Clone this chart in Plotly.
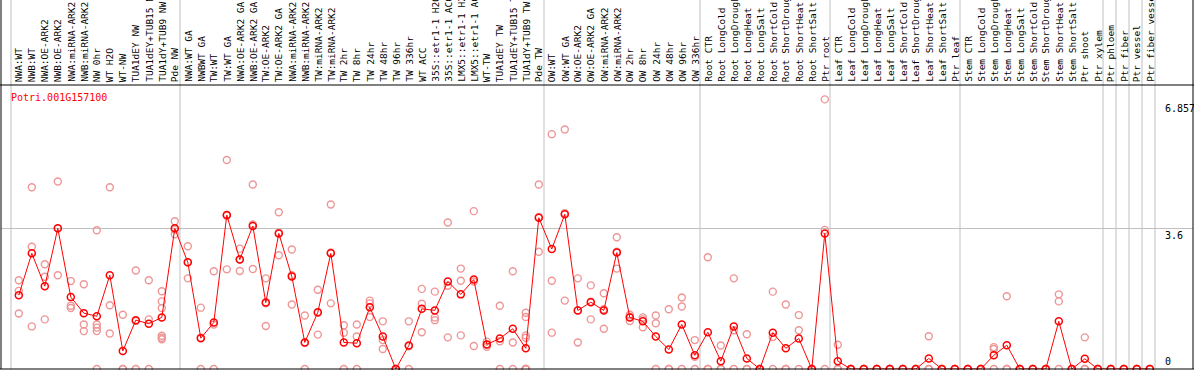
import plotly.graph_objects as go

# ---------------- data ----------------
categories = [
    "NWA:WT", "NWB:WT", "NWA:OE-ARK2", "NWB:OE-ARK2", "NWA:miRNA-ARK2", "NWB:miRNA-ARK2",
    "NW 0hr", "WT H2O", "WT-NW", "TUA1dEY NW", "TUA1dEY+TUB15 NW", "TUA1dY+TUB9 NW", "Pde NW",
    "NWA:WT GA", "NWBWT GA", "TW:WT", "TW:WT GA", "NWA:OE-ARK2 GA", "NWB:OE-ARK2 GA",
    "TW:OE-ARK2", "TW:OE-ARK2 GA", "NWA:miRNA-ARK2", "NWB:miRNA-ARK2", "TW:miRNA-ARK2",
    "TW:miRNA-ARK2", "TW 2hr", "TW 8hr", "TW 24hr", "TW 48hr", "TW 96hr", "TW 336hr",
    "WT ACC", "35S::etr1-1 H2O", "35S::etr1-1 ACC", "LMX5::etr1-1 H2O", "LMX5::etr1-1 ACC",
    "WT-TW", "TUA1dEY TW", "TUA1dEY+TUB15 TW", "TUA1dY+TUB9 TW", "Pde TW",
    "OW:WT", "OW:WT GA", "OW:OE-ARK2", "OW:OE-ARK2 GA", "OW:miRNA-ARK2", "OW:miRNA-ARK2",
    "OW 2hr", "OW 8hr", "OW 24hr", "OW 48hr", "OW 96hr", "OW 336hr",
    "Root CTR", "Root LongCold", "Root LongDrought", "Root LongHeat", "Root LongSalt",
    "Root ShortCold", "Root ShortDrought", "Root ShortHeat", "Root ShortSalt", "Ptr root",
    "Leaf CTR", "Leaf LongCold", "Leaf LongDrought", "Leaf LongHeat", "Leaf LongSalt",
    "Leaf ShortCold", "Leaf ShortDrought", "Leaf ShortHeat", "Leaf ShortSalt", "Ptr leaf",
    "Stem CTR", "Stem LongCold", "Stem LongDrought", "Stem LongHeat", "Stem LongSalt",
    "Stem ShortCold", "Stem ShortDrought", "Stem ShortHeat", "Stem ShortSalt", "Ptr shoot",
    "Ptr xylem", "Ptr phloem", "Ptr fiber", "Ptr vessel", "Ptr fiber vessel",
]

group_sizes = [13, 28, 12, 10, 10, 11, 1, 1, 1, 1]

means = [
    1.89, 2.96, 2.12, 3.60, 1.84, 1.43, 1.35, 2.40, 0.46, 1.25, 1.16, 1.32, 3.60,
    2.73, 0.79, 1.19, 3.94, 2.80, 3.66, 1.70, 3.47, 2.37, 0.68, 1.45, 2.96, 0.68,
    0.66, 1.58, 0.83, 0.00, 0.60, 1.54, 1.50, 2.24, 1.91, 2.29, 0.63, 0.78, 1.03,
    0.53, 3.87,
    3.07, 3.96, 1.50, 1.71, 1.50, 2.98, 1.32, 1.22, 0.83, 0.50, 1.14, 0.35,
    0.94, 0.20, 1.09, 0.27, 0.00, 0.93, 0.53, 0.78, 0.00, 3.47,
    0.20, 0.00, 0.00, 0.00, 0.00, 0.00, 0.00, 0.27, 0.00, 0.00,
    0.00, 0.00, 0.35, 0.61, 0.00, 0.00, 0.00, 1.22, 0.00, 0.26, 0.00,
    0.00, 0.00, 0.00, 0.00,
]

replicates = [
    [2.27, 2.00, 1.42], [4.65, 3.13, 1.09], [2.68, 2.36, 1.27], [4.80, 3.60, 2.40],
    [2.25, 1.62, 1.56], [2.17, 1.14, 0.97], [3.55, 1.14, 1.06, 0.97, 0.0],
    [4.65, 1.63, 0.91], [1.39, 0.0, 0.0], [2.52, 1.23, 0.0], [2.27, 1.27, 0.0],
    [1.99, 1.73, 1.56, 0.85, 0.80, 0.76], [3.78, 3.57, 3.45],
    [3.14, 2.73, 2.32], [1.57, 0.80, 0.0], [2.50, 1.14, 0.0], [5.35, 3.92, 2.55],
    [3.08, 2.81, 2.51], [4.72, 3.70, 2.56], [2.32, 1.68, 1.10], [4.01, 3.49, 2.91],
    [3.06, 2.40, 1.65], [1.37, 0.67, 0.0], [2.03, 1.44, 0.88], [4.21, 2.98, 1.68],
    [1.12, 0.93, 0.0], [1.14, 0.83, 0.0], [1.75, 1.68, 1.33], [1.22, 0.74, 0.51],
    [0.0, 0.0, 0.0], [1.22, 0.58, 0.0], [2.05, 1.67, 0.94], [1.98, 1.32, 1.25],
    [3.75, 2.13, 0.81], [2.57, 2.26, 0.86], [4.04, 2.24, 0.59], [0.70, 0.63, 0.57],
    [1.62, 0.71, 0.0], [2.50, 0.68, 0.0], [1.44, 1.33, 0.86, 0.80, 0.0, 0.0, 0.0, 0.0],
    [4.72, 3.89, 3.00],
    [6.01, 2.26, 0.93], [6.13, 3.99, 1.75], [2.32, 1.50, 0.68], [2.14, 1.72, 1.27],
    [1.94, 1.53, 1.03], [3.37, 3.00, 2.57], [1.39, 1.34, 1.23], [1.32, 1.27, 1.07],
    [1.37, 1.17, 0.0], [1.53, 0.0, 0.0], [1.83, 1.60, 0.0], [0.74, 0.31, 0.0],
    [2.86, 0.0, 0.0], [0.60, 0.0, 0.0], [2.32, 0.99, 0.0], [0.89, 0.0, 0.0],
    [0.0, 0.0, 0.0], [1.98, 0.82, 0.0], [1.65, 0.0, 0.0], [1.38, 0.99, 0.0],
    [0.0, 0.0, 0.0], [6.90, 3.56, 0.0],
    [0.62, 0.0, 0.0], [0.0, 0.0, 0.0], [0.0, 0.0, 0.0], [0.0, 0.0, 0.0],
    [0.0, 0.0, 0.0], [0.0, 0.0, 0.0], [0.0, 0.0, 0.0], [0.84, 0.0, 0.0],
    [0.0, 0.0, 0.0], [0.0, 0.0, 0.0],
    [0.0, 0.0, 0.0], [0.0, 0.0, 0.0], [0.56, 0.51, 0.0], [1.86, 0.0, 0.0],
    [0.0, 0.0, 0.0], [0.0, 0.0, 0.0], [0.0, 0.0, 0.0], [1.91, 1.73, 0.0],
    [0.0, 0.0, 0.0], [0.81, 0.0, 0.0], [0.0, 0.0, 0.0],
    [0.0, 0.0, 0.0], [0.0, 0.0, 0.0], [0.0, 0.0, 0.0], [0.0, 0.0, 0.0],
]

y_tick_values = [0, 3.6, 6.857]
y_tick_labels = ["0", "3.6", "6.857"]
gene_title = "Potri.001G157100"

# ---------------- layout constants ----------------
W, H = 1194, 370
ML, MR, MT, MB = 1, 1, 85, 1
plot_w = W - ML - MR
plot_h = H - MT - MB
px_per_cat = 13.0
first_cat_px = 18.8
x0 = -(first_cat_px - ML) / px_per_cat
x1 = x0 + plot_w / px_per_cat
y_max = max(y_tick_values) * 1.06
top_paper = (H - MB) / plot_h  # paper y of figure top

FONT = "DejaVu Sans Mono"
GRID = "#c0c0c0"

xs = list(range(len(categories)))
rep_x, rep_y = [], []
for i, reps in enumerate(replicates):
    for v in reps:
        rep_x.append(i)
        rep_y.append(v)

fig = go.Figure()
fig.add_trace(go.Scatter(
    x=rep_x, y=rep_y, mode="markers", cliponaxis=False, hoverinfo="skip",
    marker=dict(symbol="circle-open", size=7, color="rgb(238,150,150)",
                line=dict(width=1.4, color="rgb(238,150,150)")),
))
fig.add_trace(go.Scatter(
    x=xs, y=means, mode="lines+markers", cliponaxis=False,
    line=dict(color="#ff0000", width=1),
    marker=dict(symbol="circle-open", size=7, color="#ff0000",
                line=dict(width=1.5, color="#ff0000")),
))

shapes = []
# group boundaries (vertical grid lines spanning labels + plot)
start = 0
bounds = [start]
for g in group_sizes:
    start += g
    bounds.append(start)
for b in bounds:
    shapes.append(dict(type="line", xref="x", yref="paper", x0=b - 0.6, x1=b - 0.6,
                       y0=0, y1=top_paper, line=dict(color=GRID, width=1), layer="below"))
# frame
shapes.append(dict(type="line", xref="paper", yref="paper", x0=-0.01, x1=1.01, y0=1, y1=1,
                   line=dict(color="black", width=1), layer="above"))
shapes.append(dict(type="line", xref="paper", yref="paper", x0=-0.01, x1=1.01, y0=0, y1=0,
                   line=dict(color="black", width=1), layer="above"))
shapes.append(dict(type="line", xref="paper", yref="paper", x0=0, x1=0, y0=0, y1=top_paper,
                   line=dict(color="black", width=1), layer="above"))
shapes.append(dict(type="line", xref="paper", yref="paper", x0=1, x1=1, y0=0, y1=top_paper,
                   line=dict(color="black", width=1), layer="above"))

annotations = []
for i, name in enumerate(categories):
    annotations.append(dict(
        x=i, y=1, xref="x", yref="paper", text=name, showarrow=False,
        textangle=-90, xanchor="center", yanchor="bottom", yshift=1,
        font=dict(family=FONT, size=9.5, color="black"),
    ))
label_x = (1163 - ML) / plot_w
for v, t in zip(y_tick_values, y_tick_labels):
    annotations.append(dict(
        x=label_x, y=v, xref="paper", yref="y", text=t, showarrow=False,
        xanchor="left", yanchor="bottom" if v == 0 else "top",
        font=dict(family=FONT, size=10, color="black"),
    ))
annotations.append(dict(
    x=(9 - ML) / plot_w, y=(H - MB - 97) / plot_h, xref="paper", yref="paper",
    text=gene_title, showarrow=False, xanchor="left", yanchor="middle",
    font=dict(family=FONT, size=10, color="#ff0000"),
))

fig.update_layout(
    width=W, height=H, margin=dict(l=ML, r=MR, t=MT, b=MB, pad=0),
    paper_bgcolor="white", plot_bgcolor="white", showlegend=False,
    xaxis=dict(range=[x0, x1], showgrid=False, zeroline=False, showticklabels=False,
               ticks="", showline=False, fixedrange=True),
    yaxis=dict(range=[0, y_max], tickvals=[3.6], showticklabels=False, ticks="",
               showgrid=True, gridcolor=GRID, gridwidth=1, zeroline=False,
               showline=False, fixedrange=True),
    shapes=shapes, annotations=annotations,
)

fig.write_html(
    "out.html",
    config={"displayModeBar": False},
    post_script="document.body.style.margin='0';document.body.style.overflow='hidden';",
)
